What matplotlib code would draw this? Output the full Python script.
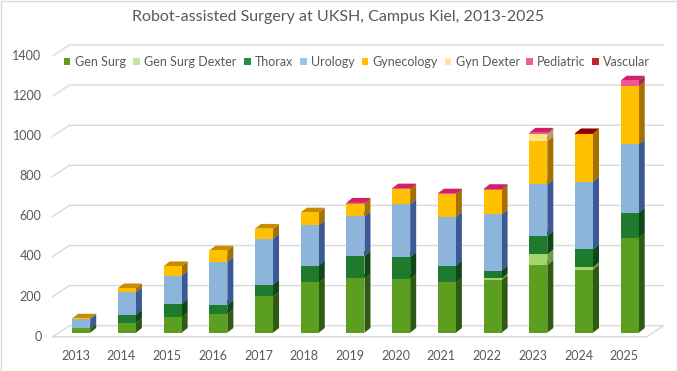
import matplotlib
matplotlib.use("Agg")
import matplotlib.pyplot as plt
from matplotlib.patches import Polygon, Rectangle
from matplotlib.transforms import IdentityTransform
import numpy as np

plt.rcParams['font.family'] = ['Lato', 'DejaVu Sans']

# ---------------- data ----------------
years = ["2013", "2014", "2015", "2016", "2017", "2018", "2019",
         "2020", "2021", "2022", "2023", "2024", "2025"]
series_names = ["Gen Surg", "Gen Surg Dexter", "Thorax", "Urology",
                "Gynecology", "Gyn Dexter", "Pediatric", "Vascular"]
gen_surg        = [22, 50, 77, 94, 181, 251, 271, 268, 251, 263, 338, 315, 474]
gen_surg_dexter = [0, 0, 0, 0, 0, 0, 0, 0, 0, 8, 53, 12, 0]
thorax          = [0, 40, 67, 44, 59, 84, 112, 109, 84, 39, 92, 89, 125]
urology         = [47, 112, 141, 217, 229, 201, 197, 264, 243, 280, 258, 338, 341]
gynecology      = [2, 20, 47, 55, 50, 64, 64, 74, 112, 122, 214, 239, 291]
gyn_dexter      = [0, 0, 0, 0, 0, 0, 0, 0, 0, 0, 37, 0, 0]
pediatric       = [0, 0, 0, 0, 0, 0, 5, 5, 5, 5, 6, 0, 27]
vascular        = [0, 0, 0, 0, 0, 0, 0, 0, 0, 0, 0, 2, 0]
y_ticks = [0, 200, 400, 600, 800, 1000, 1200, 1400]
title = "Robot-assisted Surgery at UKSH, Campus Kiel, 2013-2025"

all_series = [gen_surg, gen_surg_dexter, thorax, urology,
              gynecology, gyn_dexter, pediatric, vascular]

# colours: front, side, top
front_c = ['#5b9e20', '#a6d46c', '#1e7b2e', '#8db4da',
           '#ffc000', '#ffe38a', '#f25592', '#c00000']
side_c = ['#2f5a14', '#6f9745', '#0f4719', '#3b5a95',
          '#a67000', '#b8a05a', '#a8275e', '#7a0000']
top_c = ['#4a8a1a', '#8fbf55', '#17662a', '#6d95c4',
         '#c88c00', '#e0c060', '#d0206a', '#8b0000']
legend_c = ['#5b9e20', '#c5e69a', '#1a9641', '#9dc3e6',
            '#ffc000', '#ffe699', '#f45b9a', '#c0282a']

# ---------------- layout ----------------
W, H = 677, 371
fig = plt.figure(figsize=(W / 100, H / 100), dpi=100)
ax = fig.add_axes([0, 0, 1, 1])
ax.axis('off')

px_x = 45.71          # pixels per category
x0_px = 81.2          # pixel x of first bar front centre
u_per_px = 4.9875     # value units per pixel
y0_top = 332.7        # pixel (from top) of value 0 at bar front plane
ax.set_xlim(-x0_px / px_x, (W - x0_px) / px_x)
ax.set_ylim(-(H - y0_top) * u_per_px, y0_top * u_per_px)


def dx(p):
    return p / px_x


def dy(p):
    return p * u_per_px


grid_c = '#d9d9d9'
text_c = '#595959'

# plane offsets relative to bar front plane (pixels)
front_off = (-5.5, -4.0)
back_off = (11.1, 7.0)
left_front_px, right_front_px = 52.7, 647.0
lf = (left_front_px - x0_px) / px_x
rf = (right_front_px - x0_px) / px_x
lb = lf + dx(back_off[0] - front_off[0])
rb = rf + dx(back_off[0] - front_off[0])

for v in y_ticks:
    yf = v + dy(front_off[1])
    yb = v + dy(back_off[1])
    ax.plot([lf, lb, rb], [yf, yb, yb], color=grid_c, lw=1.0, zorder=1,
            solid_joinstyle='miter')
    ax.text(dx(41.5 - x0_px), yf, str(v), ha='right', va='center',
            fontsize=9, color=text_c)
# floor front edge
ax.plot([lf, rf, rb], [dy(front_off[1])] * 2 + [dy(back_off[1])],
        color=grid_c, lw=1.0, zorder=1)

# ---------------- bars ----------------
xs = np.arange(len(years))
bw = dx(18)
ddx, ddy = dx(6.0), dy(4.7)
bottom = np.zeros(len(years))
for s, vals in enumerate(all_series):
    vals = np.array(vals, dtype=float)
    ax.bar(xs, vals, bottom=bottom, width=bw, color=front_c[s],
           linewidth=0, zorder=10)
    for i in range(len(years)):
        if vals[i] <= 0:
            continue
        b, t = bottom[i], bottom[i] + vals[i]
        xr = xs[i] + bw / 2
        xl = xs[i] - bw / 2
        ax.add_patch(Polygon([(xr, b), (xr, t), (xr + ddx, t + ddy),
                              (xr + ddx, b + ddy)], closed=True,
                             facecolor=side_c[s], edgecolor='none',
                             zorder=9 + s * 0.1))
        ax.add_patch(Polygon([(xl, t), (xr, t), (xr + ddx, t + ddy),
                              (xl + ddx, t + ddy)], closed=True,
                             facecolor=top_c[s], edgecolor='none',
                             zorder=9.05 + s * 0.1))
    bottom += vals

# x labels on front plane
for i, y in enumerate(years):
    ax.text(xs[i] + dx(front_off[0]), dy(-(356 - y0_top)), y,
            ha='center', va='center', fontsize=9, color=text_c)

# ---------------- title & legend (pixel coordinates) ----------------
ident = IdentityTransform()
fig.text(338 / W, 1 - 17 / H, title, ha='center', va='center',
         fontsize=11.5, color=text_c)

marker_left = [63.9, 133.0, 244.0, 300.0, 361.8, 444.7, 526.0, 592.4]
for name, c, ml in zip(series_names, legend_c, marker_left):
    yc = H - 61.5
    fig.patches.append(Rectangle((ml, yc - 3.3), 6.5, 6.5, facecolor=c,
                                 edgecolor='none', transform=ident,
                                 figure=fig))
    fig.text((ml + 11.0) / W, yc / H, name, ha='left', va='center',
             fontsize=9, color=text_c)

# outer border
fig.patches.append(Rectangle((0.5, 0.5), W - 1, H - 1, facecolor='none',
                             edgecolor='#d9d9d9', lw=1, transform=ident,
                             figure=fig))

fig.savefig("out.png", dpi=100, facecolor='white')
